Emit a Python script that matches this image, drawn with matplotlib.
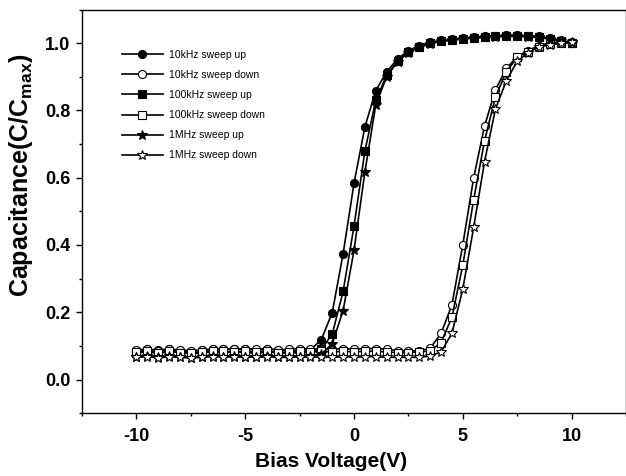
import matplotlib

matplotlib.use("Agg")
import matplotlib.pyplot as plt
import numpy as np
from matplotlib.ticker import MultipleLocator

# bias voltage grid, -10 V .. 10 V in 0.5 V steps
bias = np.arange(-10.0, 10.01, 0.5)

up_10k = [0.085, 0.090, 0.088, 0.090, 0.085, 0.083, 0.087, 0.090, 0.090, 0.092,
          0.090, 0.088, 0.090, 0.088, 0.085, 0.085, 0.088, 0.119, 0.199, 0.374,
          0.583, 0.751, 0.859, 0.915, 0.953, 0.978, 0.993, 1.003, 1.008, 1.012,
          1.015, 1.018, 1.020, 1.022, 1.023, 1.023, 1.022, 1.020, 1.015, 1.008,
          1.000]
up_100k = [0.080, 0.082, 0.078, 0.083, 0.080, 0.076, 0.080, 0.082, 0.080, 0.083,
           0.080, 0.078, 0.082, 0.080, 0.078, 0.080, 0.082, 0.090, 0.135, 0.262,
           0.456, 0.679, 0.830, 0.905, 0.948, 0.975, 0.990, 1.000, 1.006, 1.010,
           1.013, 1.016, 1.018, 1.020, 1.021, 1.021, 1.020, 1.018, 1.013, 1.006,
           1.000]
up_1M = [0.068, 0.070, 0.066, 0.070, 0.068, 0.065, 0.068, 0.070, 0.068, 0.070,
         0.068, 0.066, 0.070, 0.068, 0.066, 0.068, 0.070, 0.075, 0.107, 0.205,
         0.384, 0.617, 0.816, 0.900, 0.945, 0.972, 0.988, 0.998, 1.005, 1.009,
         1.012, 1.015, 1.017, 1.019, 1.020, 1.020, 1.019, 1.017, 1.012, 1.005,
         1.000]
down_10k = [0.088, 0.090, 0.086, 0.090, 0.088, 0.085, 0.088, 0.090, 0.092, 0.090,
            0.092, 0.090, 0.092, 0.088, 0.090, 0.092, 0.090, 0.092, 0.090, 0.092,
            0.090, 0.092, 0.092, 0.090, 0.086, 0.085, 0.085, 0.093, 0.137, 0.222,
            0.401, 0.600, 0.754, 0.861, 0.925, 0.960, 0.978, 0.993, 1.000, 1.003,
            1.003]
down_100k = [0.082, 0.084, 0.080, 0.084, 0.080, 0.078, 0.082, 0.084, 0.084, 0.082,
             0.084, 0.082, 0.084, 0.080, 0.082, 0.084, 0.082, 0.084, 0.082, 0.084,
             0.082, 0.084, 0.084, 0.082, 0.080, 0.080, 0.082, 0.085, 0.110, 0.185,
             0.340, 0.535, 0.710, 0.840, 0.915, 0.958, 0.975, 0.990, 0.997, 1.000,
             1.000]
down_1M = [0.066, 0.068, 0.064, 0.068, 0.066, 0.064, 0.066, 0.068, 0.068, 0.066,
           0.068, 0.066, 0.068, 0.066, 0.066, 0.068, 0.066, 0.068, 0.066, 0.068,
           0.066, 0.068, 0.068, 0.066, 0.066, 0.066, 0.066, 0.070, 0.082, 0.137,
           0.269, 0.453, 0.648, 0.804, 0.888, 0.946, 0.972, 0.988, 0.996, 1.000,
           1.002]

labels = ["10kHz sweep up", "10kHz sweep down", "100kHz sweep up",
          "100kHz sweep down", "1MHz sweep up", "1MHz sweep down"]
series = [up_10k, down_10k, up_100k, down_100k, up_1M, down_1M]
markers = ["o", "o", "s", "s", "*", "*"]
faces = ["black", "white", "black", "white", "black", "white"]

plt.rcParams["font.family"] = ["Liberation Sans", "DejaVu Sans"]
plt.rcParams["axes.unicode_minus"] = False
plt.rcParams["mathtext.fontset"] = "custom"
plt.rcParams["mathtext.rm"] = "Liberation Sans:bold"
plt.rcParams["mathtext.it"] = "Liberation Sans:bold"
plt.rcParams["mathtext.bf"] = "Liberation Sans:bold"

fig = plt.figure(figsize=(6.26, 4.76), dpi=100)
ax = fig.add_axes([0.131, 0.132, 0.869, 0.848])

for y, lab, m, fc in zip(series, labels, markers, faces):
    ms = 7.5 if m == "*" else 5.8
    if m == "s":
        ms = 5.2
    ax.plot(bias, y, color="black", lw=1.2, marker=m, ms=ms,
            mfc=fc, mec="black", mew=0.8, label=lab)

ax.set_xlim(-12.5, 12.5)
ax.set_ylim(-0.1, 1.1)
ax.xaxis.set_major_locator(MultipleLocator(5))
ax.xaxis.set_minor_locator(MultipleLocator(2.5))
ax.yaxis.set_major_locator(MultipleLocator(0.2))
ax.yaxis.set_minor_locator(MultipleLocator(0.1))
ax.tick_params(which="major", direction="out", length=4.5, width=1.0, labelsize=13, pad=4)
ax.tick_params(which="minor", direction="out", length=2.5, width=1.0)
ax.tick_params(axis="x", which="major", pad=6)
for t in ax.get_xticklabels() + ax.get_yticklabels():
    t.set_fontweight("bold")
for s in ax.spines.values():
    s.set_linewidth(1.0)

ax.set_xlabel("Bias Voltage(V)", fontsize=15, fontweight="bold")
ax.set_ylabel(r"Capacitance(C/C$_{\mathrm{max}}$)", fontsize=18, fontweight="bold")
ax.xaxis.set_label_coords(0.458, -0.095)
ax.yaxis.set_label_coords(-0.087, 0.59)

ax.legend(loc="upper left", bbox_to_anchor=(0.0735, 0.9), frameon=False,
          fontsize=7.5, handlelength=3.9, handletextpad=0.6, labelspacing=0.97,
          borderpad=0, borderaxespad=0, numpoints=1)

fig.savefig("out.png", dpi=100)
